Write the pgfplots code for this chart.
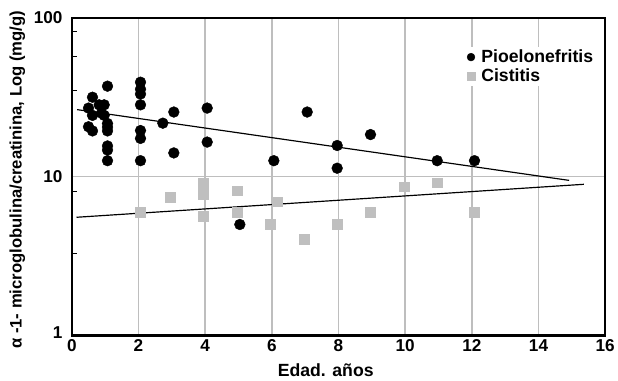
\documentclass[border=0pt]{standalone}
\usepackage{fontspec}
\setmainfont{Liberation Sans}
\usepackage{pgfplots}
\pgfplotsset{compat=1.18}
\definecolor{grd}{HTML}{BEBEBE}
\definecolor{sq}{HTML}{BFBFBF}
\begin{document}
\begin{tikzpicture}
\begin{axis}[
  name=ax,
  scale only axis,
  width=542bp, height=323bp,
  xmin=0, xmax=16, ymin=1, ymax=100,
  ymode=log,
  xtick={0,2,...,16},
  ytick={1,10,100},
  yticklabels={\raisebox{7bp}{1},10,100},
  minor ytick={3.3,8.1,35,57,82},
  ytick pos=left, xtick pos=bottom,
  tick align=inside,
  major tick length=0pt,
  minor tick length=5bp,
  minor tick style={black, line width=1bp},
  xmajorgrids, ymajorgrids,
  major grid style={draw=grd, line width=1.5bp},
  axis line style={black, line width=2.3bp},
  /pgf/number format/assume math mode=true,
  tick label style={font=\fontsize{17.5}{17.5}\selectfont\bfseries},
  yticklabel style={xshift=-6bp},
  xticklabel style={yshift=-1bp},
  log ticks with fixed point,
  xlabel={Edad. años},
  xlabel style={font=\fontsize{18}{18}\selectfont\bfseries, at={(axis description cs:0.476,-0.128)}, anchor=base, inner sep=0pt, text depth=0pt},
  ylabel={α -1- microglobulina/creatinina, Log (mg/g)},
  ylabel style={font=\fontsize{17}{17}\selectfont\bfseries, at={(axis description cs:-0.087,0.49)}, anchor=south, inner sep=0pt},
  legend style={at={(axis description cs:0.737,0.91)}, anchor=north west, draw=none, fill=white,
    font=\fontsize{18}{18}\selectfont\bfseries, inner sep=2bp, row sep=1.5bp,
    nodes={inner sep=1.5bp},
    /tikz/every odd column/.append style={column sep=5bp}},
  legend cell align=left,
  legend image code/.code={\draw[#1, mark size=4bp] plot coordinates {(0bp,0bp)};},
]
\addplot[only marks, mark=*, mark size=5.5bp, black] coordinates {
(0.50,27.0)(0.62,31.6)(0.62,24.3)(0.50,20.6)(0.62,19.4)(0.82,28.3)(0.97,28.3)(0.89,25.1)(0.97,24.3)
(1.07,37.1)(1.07,21.6)(1.07,20.5)(1.07,19.4)(1.07,15.6)(1.07,14.7)(1.07,12.6)
(2.06,39.3)(2.06,35.5)(2.06,33.1)(2.06,28.3)(2.06,19.5)(2.06,17.4)(2.06,12.6)
(2.73,21.7)(3.06,25.5)(3.06,14.1)(4.06,27.0)(4.06,16.5)(5.04,5.0)(6.06,12.6)
(7.06,25.5)(7.96,15.7)(7.96,11.3)(8.96,18.4)(10.96,12.6)(12.08,12.6)
};
\addlegendentry{Pioelonefritis}
\addplot[only marks, mark=square*, mark size=5bp, draw=sq, fill=sq, mark options={draw=sq, fill=sq}] coordinates {
(2.04,5.96)(2.96,7.45)(3.93,9.1)(3.93,7.75)(3.93,5.63)(4.96,8.15)(4.96,5.96)(5.96,5.02)
(6.16,6.95)(6.96,4.06)(7.96,5.02)(8.96,5.96)(9.97,8.65)(10.96,9.16)(12.08,5.96)
};
\addlegendentry{Cistitis}
\addplot[black, line width=1.2bp, no marks, forget plot] coordinates {(0.16,26.4)(14.92,9.47)};
\addplot[black, line width=1.2bp, no marks, forget plot] coordinates {(0.14,5.55)(15.36,8.95)};
\end{axis}
\path (ax.south west) +(-73bp,-46bp);
\path (ax.north east) +(3bp,18bp);
\end{tikzpicture}
\end{document}
